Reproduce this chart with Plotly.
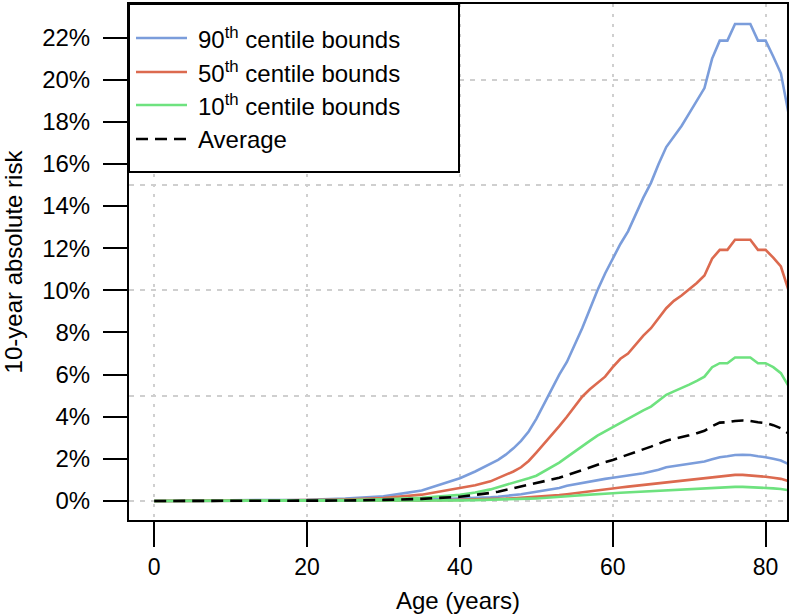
import plotly.graph_objects as go

# ---------------- data (risk in %) ----------------
ages = [0, 10, 20, 25, 30, 35, 40, 42, 44] + list(range(45, 85))

p90_upper = [0, 0.02, 0.06, 0.12, 0.22, 0.5, 1.08, 1.4, 1.75,
             1.95, 2.2, 2.5, 2.85, 3.3, 3.9, 4.6, 5.35, 6.0, 6.6,
             7.4, 8.2, 9.1, 10.0, 10.8, 11.5, 12.2, 12.8, 13.6, 14.4,
             15.1, 16.0, 16.8, 17.3, 17.8, 18.4, 19.0, 19.6, 21.0, 21.85,
             21.85, 22.64, 22.64, 22.64, 21.85, 21.85, 21.1, 20.3, 18.4, 16.3]
p50_upper = [0, 0.01, 0.04, 0.07, 0.14, 0.3, 0.6, 0.75, 0.93,
             1.08, 1.22, 1.4, 1.6, 1.9, 2.3, 2.7, 3.1, 3.55, 4.0,
             4.5, 4.95, 5.3, 5.6, 5.9, 6.35, 6.75, 7.0, 7.45, 7.85,
             8.2, 8.7, 9.15, 9.5, 9.75, 10.05, 10.35, 10.7, 11.5, 11.92,
             11.92, 12.4, 12.4, 12.4, 11.92, 11.92, 11.55, 11.13, 10.0, 8.8]
p10_upper = [0, 0.005, 0.02, 0.04, 0.08, 0.15, 0.29, 0.4, 0.55,
             0.65, 0.75, 0.87, 0.98, 1.08, 1.2, 1.4, 1.6, 1.82, 2.08,
             2.35, 2.6, 2.85, 3.1, 3.3, 3.52, 3.72, 3.92, 4.1, 4.3,
             4.48, 4.75, 5.04, 5.2, 5.35, 5.52, 5.7, 5.9, 6.35, 6.54,
             6.54, 6.81, 6.81, 6.81, 6.54, 6.54, 6.35, 6.07, 5.45, 4.8]
average = [0, 0.003, 0.01, 0.02, 0.05, 0.1, 0.2, 0.28, 0.38,
           0.44, 0.52, 0.6, 0.7, 0.79, 0.87, 0.95, 1.02, 1.1, 1.22,
           1.35, 1.48, 1.6, 1.72, 1.84, 1.95, 2.07, 2.2, 2.33, 2.46,
           2.58, 2.72, 2.86, 2.95, 3.02, 3.12, 3.22, 3.33, 3.55, 3.72,
           3.74, 3.8, 3.82, 3.8, 3.74, 3.7, 3.6, 3.45, 3.2, None]
p90_lower = [0, 0.002, 0.005, 0.01, 0.02, 0.05, 0.1, 0.13, 0.17,
             0.2, 0.23, 0.27, 0.32, 0.38, 0.44, 0.5, 0.56, 0.62, 0.72,
             0.79, 0.86, 0.93, 1.0, 1.05, 1.1, 1.15, 1.2, 1.26, 1.32,
             1.4, 1.48, 1.6, 1.65, 1.7, 1.76, 1.82, 1.87, 1.98, 2.08,
             2.12, 2.18, 2.19, 2.18, 2.12, 2.08, 2.0, 1.92, 1.75, 1.62]
p50_lower = [0, 0.001, 0.003, 0.006, 0.01, 0.025, 0.05, 0.06, 0.08,
             0.1, 0.11, 0.13, 0.15, 0.17, 0.2, 0.22, 0.25, 0.28, 0.32,
             0.37, 0.42, 0.46, 0.51, 0.56, 0.6, 0.64, 0.68, 0.72, 0.76,
             0.81, 0.86, 0.91, 0.95, 0.98, 1.01, 1.04, 1.08, 1.14, 1.19,
             1.21, 1.24, 1.24, 1.22, 1.18, 1.15, 1.1, 1.05, 0.95, 0.88]
p10_lower = [0, 0.001, 0.002, 0.003, 0.006, 0.015, 0.03, 0.04, 0.05,
             0.06, 0.07, 0.08, 0.1, 0.11, 0.12, 0.14, 0.17, 0.2, 0.22,
             0.25, 0.28, 0.31, 0.33, 0.35, 0.37, 0.39, 0.41, 0.43, 0.45,
             0.47, 0.49, 0.52, 0.53, 0.55, 0.56, 0.58, 0.6, 0.63, 0.65,
             0.66, 0.67, 0.67, 0.66, 0.64, 0.63, 0.6, 0.57, 0.5, 0.45]

x_ticks = [0, 20, 40, 60, 80]
y_ticks = [0, 2, 4, 6, 8, 10, 12, 14, 16, 18, 20, 22]
y_grid = [0, 5, 10, 15, 20]
legend_labels = ["90<sup>th</sup> centile bounds", "50<sup>th</sup> centile bounds",
                 "10<sup>th</sup> centile bounds", "Average"]

BLUE, RED, GREEN = "#7b9ddb", "#dc6a4f", "#6ee27f"
FONT = "Liberation Sans, Arial, Helvetica, sans-serif"
FS = 24


def frac(v):
    return [None if a is None else a / 100 for a in v]


fig = go.Figure()
series = [
    (p90_upper, BLUE, "solid"), (p90_lower, BLUE, "solid"),
    (p50_upper, RED, "solid"), (p50_lower, RED, "solid"),
    (p10_upper, GREEN, "solid"), (p10_lower, GREEN, "solid"),
    (average, "black", "12px,7px"),
]
for vals, col, dash in series:
    fig.add_trace(go.Scatter(x=ages, y=frac(vals), mode="lines",
                             line=dict(color=col, width=2.6, dash=dash),
                             showlegend=False, hoverinfo="skip"))

# invisible trace on overlay axis to carry the horizontal grid
fig.add_trace(go.Scatter(x=[None], y=[None], yaxis="y2", showlegend=False))

GRID = "#cfcfcf"
yr = [-0.00903, 0.2359]
fig.update_layout(
    width=798, height=616,
    margin=dict(l=129, r=11, t=4, b=96, autoexpand=False),
    paper_bgcolor="white", plot_bgcolor="white",
    font=dict(family=FONT, size=FS, color="black"),
    xaxis=dict(range=[-3.3, 82.8], tickvals=x_ticks, ticks="outside",
               ticklen=25, tickwidth=2, tickcolor="black",
               tickfont=dict(family=FONT, size=23),
               showline=True, linecolor="black", linewidth=2, mirror=True,
               showgrid=True, gridcolor=GRID, gridwidth=1.5, griddash="3px,7px",
               zeroline=False, ticklabelstandoff=0, automargin=False,
               title=dict(text="Age (years)", standoff=14,
                          font=dict(family=FONT, size=FS))),
    yaxis=dict(range=yr, tickvals=[v / 100 for v in y_ticks],
               ticktext=[f"{v}%" for v in y_ticks], ticks="outside",
               ticklen=24, tickwidth=2, tickcolor="black",
               showline=True, linecolor="black", linewidth=2, mirror=True,
               showgrid=False, zeroline=False, ticklabelstandoff=8,
               automargin=False,
               title=dict(text="10-year absolute risk", standoff=15,
                          font=dict(family=FONT, size=FS))),
    yaxis2=dict(range=yr, overlaying="y", tickvals=[v / 100 for v in y_grid],
                showticklabels=False, ticks="", showline=False, zeroline=False,
                automargin=False,
                showgrid=True, gridcolor=GRID, gridwidth=1.5, griddash="5px,6px"),
)

# legend box (R-style, white filled, black border)
W, H = 658.0, 516.0
def px(xp):
    return (xp - 129) / W
def py(yp):
    return (520 - yp) / H

fig.add_shape(type="rect", xref="paper", yref="paper",
              x0=px(129), x1=px(459), y0=py(172), y1=1,
              fillcolor="white", line=dict(color="black", width=2), layer="above")
rows = [38, 72, 105, 139]
cols = [BLUE, RED, GREEN, "black"]
dashes = ["solid", "solid", "solid", "12px,7px"]
for ry, col, dsh, lab in zip(rows, cols, dashes, legend_labels):
    fig.add_shape(type="line", xref="paper", yref="paper",
                  x0=px(136), x1=px(187), y0=py(ry), y1=py(ry),
                  line=dict(color=col, width=2.6, dash=dsh), layer="above")
    fig.add_annotation(xref="paper", yref="paper", x=px(196), y=py(ry),
                       xanchor="left", yanchor="middle", showarrow=False,
                       text=lab, font=dict(family=FONT, size=FS, color="black"))

fig.write_html("out.html",
               config={"displayModeBar": False},
               post_script="document.body.style.margin='0';"
                           "document.body.style.overflow='hidden';")
